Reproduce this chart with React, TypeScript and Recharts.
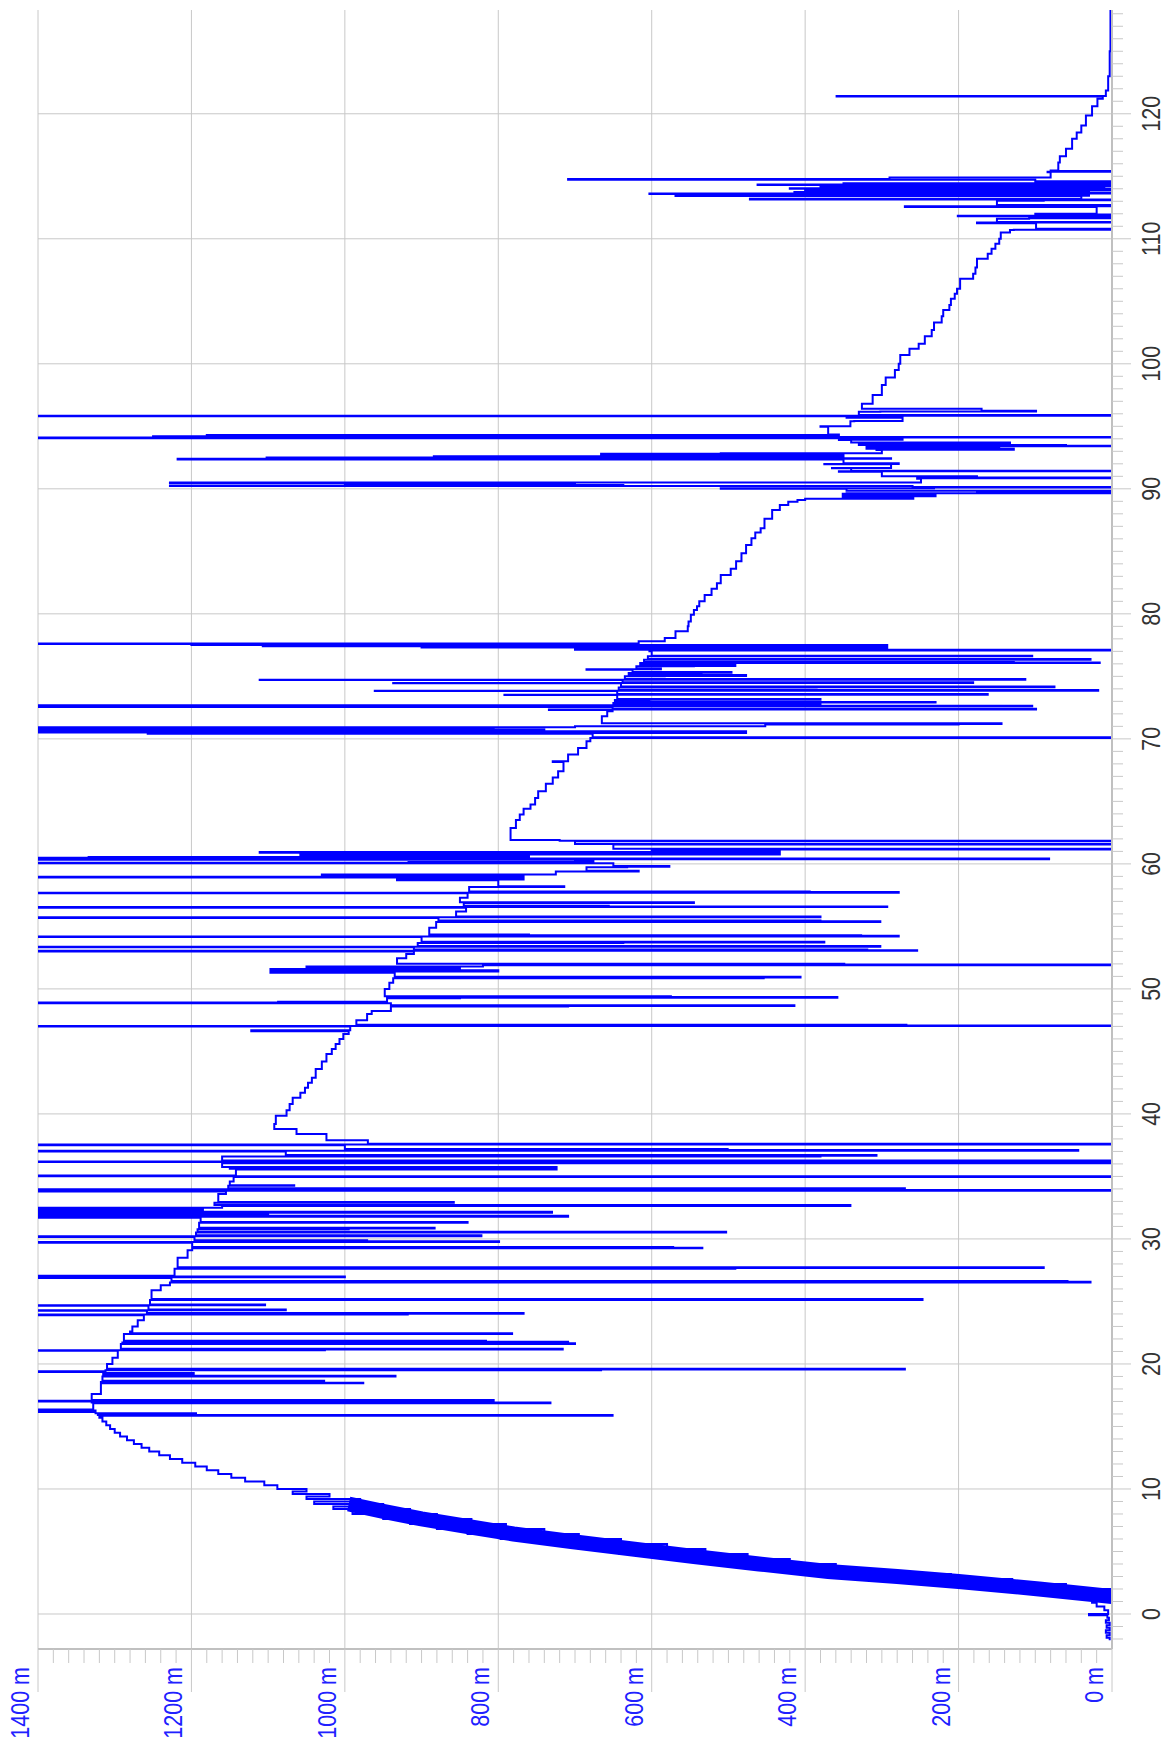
import { CartesianGrid, Line, LineChart, XAxis, YAxis } from "recharts";

// The chart is an ordinary time/altitude profile that is rotated a quarter turn
// counter-clockwise on the page: time runs bottom -> top, altitude right -> left.
const W = 1744;
const H = 1164;
const PLOT_LEFT = 95;
const PLOT_BOTTOM = 1112;

const TIME_DOMAIN: [number, number] = [-2.8, 128.3];
const ALT_DOMAIN: [number, number] = [0, 1400];

const timeMajor = [0, 10, 20, 30, 40, 50, 60, 70, 80, 90, 100, 110, 120];
const timeTicks = Array.from({ length: 131 }, (_, i) => i - 2);
const altMajor = [0, 200, 400, 600, 800, 1000, 1200, 1400];
const altTicks = Array.from({ length: 71 }, (_, i) => i * 20);

// [time, altitude m]; 1480 / -20 = spikes clipped at the frame
const startPts: [number, number][] = [
  [-2.1, 3], [-1.9, 7], [-1.7, 3], [-1.5, 8], [-1.3, 3], [-1.1, 7], [-0.9, 3], [-0.7, 8],
  [-0.5, 4], [-0.3, 6], [-0.1, 30], [0, 5], [0.3, 10], [0.6, 20], [0.9, 26], [1.2, 14],
];

// the noisy climb reads as a solid ribbon around this centre line
const climbCentre: [number, number][] = [
  [1.4, 0], [2.0, 95], [2.6, 200], [3.0, 280], [3.4, 370], [4.0, 460], [4.6, 545],
  [5.2, 625], [5.8, 705], [6.4, 780], [7.0, 840], [7.6, 900], [8.2, 950], [8.8, 995],
];

const climbPts: [number, number][] = [
  [1.4, 0], [1.6, 90], [1.8, 0], [2.0, 165], [2.2, 60], [2.4, 235], [2.6, 130], [2.8, 310],
  [3.0, 210], [3.2, 395], [3.4, 300], [3.6, 470], [3.8, 360], [4.0, 530], [4.2, 420], [4.4, 588],
  [4.6, 475], [4.8, 642], [5.0, 530], [5.2, 695], [5.4, 580], [5.6, 743], [5.8, 640], [6.0, 797],
  [6.2, 695], [6.4, 840], [6.6, 740], [6.8, 880], [7.0, 790], [7.2, 915], [7.4, 835], [7.6, 950],
  [7.8, 880], [8.0, 990], [8.2, 915], [8.4, 1015], [8.6, 950], [8.8, 1040], [9.0, 980], [9.2, 1050],
  [9.4, 1020], [9.6, 1068], [9.8, 1050], [10.0, 1088], [10.3, 1105], [10.6, 1130], [10.9, 1148],
  [11.2, 1165], [11.5, 1180], [11.8, 1195], [12.1, 1212], [12.4, 1228], [12.7, 1242], [13.0, 1255],
  [13.3, 1265], [13.6, 1275], [13.9, 1284], [14.2, 1293], [14.5, 1300], [14.8, 1306], [15.1, 1311],
  [15.4, 1316], [15.7, 1320],
];

const summitPts: [number, number][] = [
  [15.85, 651], [15.92, 1322], [15.98, 1194], [16.05, 1325], [16.15, 1480], [16.22, 1325],
  [16.28, 1480], [16.35, 1328], [16.85, 732], [16.92, 1330], [17.0, 1480], [17.05, 806],
  [17.12, 1330], [17.6, 1318], [18.45, 976], [18.5, 1318], [18.55, 1027], [18.65, 1316],
  [19.0, 934], [19.05, 1315], [19.2, 1197], [19.28, 1315], [19.35, 1480], [19.42, 1312],
  [19.5, 666], [19.55, 270], [19.62, 1310], [20.0, 1303], [20.5, 1296], [21.05, 1480],
  [21.1, 1026], [21.15, 716], [21.22, 1292], [21.6, 700], [21.65, 1290], [21.72, 709],
  [21.78, 816], [21.85, 1288], [22.4, 782], [22.45, 1280], [22.6, 1277], [23.0, 1270],
  [23.5, 1262], [23.9, 1480], [23.96, 918], [24.02, 767], [24.08, 1258], [24.25, 1480],
  [24.3, 1077], [24.36, 1256], [24.65, 1480], [24.7, 1104], [24.76, 1254], [25.12, 247],
  [25.2, 1252], [25.9, 1240], [26.3, 1228], [26.52, 28], [26.58, 58], [26.64, 1226],
  [26.88, 1480], [26.94, 1000], [27.0, 1480], [27.06, 1222], [27.62, 491], [27.68, 89],
  [27.74, 1218], [28.5, 1205], [29.1, 1199], [29.25, 534], [29.3, 572], [29.36, 1199],
  [29.7, 1480], [29.76, 799], [29.82, 971], [29.9, 1196], [30.15, 1480], [30.22, 822],
  [30.3, 1194], [30.52, 503], [30.58, 1192], [30.78, 995], [30.84, 883], [30.9, 1190],
  [31.3, 840], [31.36, 1188], [31.7, 1480], [31.78, 709], [31.86, 1480], [31.94, 1100],
  [32.02, 1480], [32.1, 730], [32.18, 1480], [32.26, 1185], [32.4, 1480], [32.5, 1160],
  [32.64, 341], [32.72, 1170], [32.9, 858], [32.96, 1165], [33.6, 1155], [33.8, 1480],
  [33.86, -20], [33.92, 1480], [33.98, 270], [34.05, 1152], [34.25, 1066], [34.3, 1150],
  [34.6, 1145], [34.95, -20], [35.02, 1480], [35.08, 1142], [35.55, 724], [35.62, 1150],
  [35.7, 724], [35.76, 1160], [36.05, -20], [36.1, 457], [36.15, 1480], [36.2, -20],
  [36.28, 1160], [36.6, 380], [36.66, 307], [36.72, 1077], [37.0, 1480], [37.06, 44],
  [37.12, 501], [37.2, 1000], [37.5, 1480], [37.56, -20], [37.62, 970], [37.9, 1024],
  [38.4, 1063], [38.8, 1092],
];

const plateauPts: [number, number][] = [
  [39.2, 1090], [39.85, 1076], [40.3, 1072], [40.8, 1068], [41.3, 1058], [41.7, 1052],
  [42.1, 1048], [42.5, 1043], [42.9, 1038], [43.6, 1030], [44.2, 1024], [44.8, 1017],
  [45.2, 1012], [45.6, 1007], [46.0, 1002], [46.4, 995], [46.62, 1122], [46.7, 993],
  [47.0, 1480], [47.04, -20], [47.08, 268], [47.14, 985], [47.5, 971], [48.0, 965],
  [48.24, 940], [48.6, 709], [48.64, 414], [48.7, 940], [48.86, 1480], [48.92, 1087],
  [48.98, 945], [49.25, 850], [49.3, 358], [49.36, 575], [49.42, 948], [50.0, 942],
  [50.5, 937], [50.85, 454], [50.92, 406], [50.98, 935], [51.3, 1097], [51.4, 800],
  [51.5, 1097], [51.6, 850], [51.7, 1050], [51.8, 820], [51.9, -20], [51.95, 349],
  [52.02, 932], [52.45, 920], [52.8, 910], [53.0, 1480], [53.05, 254], [53.1, 319],
  [53.15, 910], [53.33, 1480], [53.38, 302], [53.44, 905], [53.68, 637], [53.72, 375],
  [53.78, 900], [54.15, 1480], [54.2, 278], [54.25, 327], [54.3, 760], [54.36, 890],
  [54.9, 881], [55.35, 302], [55.42, 380], [55.48, 878], [55.68, 1480], [55.74, 380],
  [55.8, 855], [56.2, 842], [56.5, 1480], [56.55, 293], [56.6, 656], [56.66, 845],
  [56.88, 545], [56.94, 850], [57.3, 840], [57.65, 1480], [57.7, 278], [57.75, 394],
  [57.8, 838], [58.15, 714], [58.22, 800], [58.7, 932], [58.76, 767], [58.92, 1480],
  [58.98, 767], [59.05, 1030], [59.16, 725], [59.4, 617], [59.45, 685],
];

const middlePts: [number, number][] = [
  [59.74, 632], [59.78, 577], [59.84, 650], [60.05, 1480], [60.1, 917], [60.16, 676],
  [60.22, 700], [60.33, 1480], [60.38, 82], [60.44, 1480], [60.5, 1334], [60.56, 760],
  [60.72, 1058], [60.76, 433], [60.8, 927], [60.84, 454], [60.9, 1111], [60.95, 433],
  [61.0, 600], [61.16, -20], [61.22, 650], [61.55, -20], [61.6, 700], [61.82, -20],
  [61.86, 720], [61.92, 784], [62.03, 784], [62.88, 777], [63.5, 772], [63.94, 767],
  [64.4, 758], [64.74, 752], [65.27, 748], [65.8, 738], [66.4, 729], [66.9, 722],
  [67.4, 715], [68.15, 729], [68.2, 709], [68.74, 696], [69.27, 685], [69.8, 680],
  [70.07, -20], [70.12, 677], [70.4, 1257], [70.47, 477], [70.5, 1480], [70.55, 477],
  [70.6, 1480], [70.65, 740], [70.75, 1480], [70.8, 806], [70.87, 1480], [70.92, 700],
  [71.0, 452], [71.14, 200], [71.18, 144], [71.25, 665], [71.8, 658], [72.2, 651],
  [72.3, 734], [72.34, 99], [72.4, 651], [72.55, 1480], [72.6, 104], [72.64, 1480],
  [72.68, 380], [72.74, 650], [72.87, 433], [72.9, 230], [72.95, 648], [73.1, 603],
  [73.13, 380], [73.18, 645], [73.5, 792], [73.53, 162], [73.58, 645], [73.82, 961],
  [73.85, 18], [73.9, 643], [74.1, 385], [74.12, 75], [74.18, 640], [74.44, 937],
  [74.47, 181], [74.52, 638], [74.7, 1111], [74.73, 113], [74.78, 635], [75.0, 583],
  [75.03, 477], [75.1, 630], [75.26, 535], [75.29, 496], [75.35, 625], [75.53, 685],
  [75.56, 588], [75.62, 620], [75.8, 545], [75.83, 491], [75.9, 615], [76.06, 16],
  [76.1, 128], [76.15, 610], [76.33, 28], [76.38, 605], [76.6, 104], [76.65, 600],
  [77.0, 603], [77.07, -20], [77.12, 700], [77.2, 293], [77.3, 900], [77.4, 1107],
  [77.45, 293], [77.5, 1200], [77.58, 1480], [77.62, 617], [77.8, 583], [78.06, 569],
];

const slopePts: [number, number][] = [
  [78.6, 553], [79.0, 552], [79.39, 549], [79.93, 545], [80.3, 541], [80.6, 538],
  [81.0, 531], [81.5, 522], [82.0, 515], [82.45, 510], [83.1, 497], [83.6, 490],
  [84.2, 483], [84.85, 477], [85.5, 470], [86.05, 465], [86.5, 458], [86.85, 453],
  [87.6, 443], [88.3, 433], [88.7, 422], [88.97, 410], [89.1, 400],
  [89.2, 259], [89.3, 351], [89.4, 230], [89.5, 351], [89.6, 346], [89.64, -20],
  [89.7, 176], [89.76, -20], [89.85, 346], [90.0, 510], [90.04, 232], [90.1, -20],
  [90.15, 260], [90.22, 1228], [90.25, 637], [90.3, 1000], [90.36, 700], [90.45, 1228],
  [90.5, 249], [90.8, 254], [90.84, -20], [90.9, 176], [91.0, 300], [91.37, 356],
  [91.4, -20], [91.45, 340], [91.64, 365], [91.67, 288], [91.96, 375], [91.99, 278],
  [92.05, 350], [92.35, 1218], [92.4, 288], [92.45, 1102], [92.5, 375], [92.55, 884],
  [92.6, 350], [92.76, 666], [92.8, 510], [92.85, 300], [93.1, 307], [93.13, 128],
  [93.2, 320], [93.37, 147], [93.4, -20], [93.45, 60], [93.5, 330], [93.6, 307],
  [93.63, 133], [93.7, 340], [93.9, 356], [93.93, 273], [94.05, 1480], [94.1, -20],
  [94.15, 1250], [94.2, 356], [94.25, 1180], [94.3, 356], [94.35, 370], [94.96, 380],
  [95.0, 341], [95.4, 336], [95.43, 273], [95.68, 346], [95.71, 297], [95.8, 1480],
  [95.84, -20], [95.9, 330], [96.16, 302], [96.19, 99], [96.25, 170], [96.4, 326],
];

const descentPts: [number, number][] = [
  [96.8, 312], [97.5, 300], [98.3, 295], [98.9, 283], [99.5, 278], [100.0, 276],
  [100.7, 264], [101.2, 252], [101.6, 244], [102.2, 235], [102.7, 232], [103.3, 222],
  [103.8, 220], [104.3, 212], [104.7, 210], [105.2, 205], [105.6, 202], [106.0, 198],
  [106.8, 181], [107.2, 178], [107.7, 176], [108.4, 162], [108.8, 157], [109.2, 152],
  [109.6, 147], [110.0, 145], [110.5, 133],
  [110.7, 128], [110.72, -20], [110.8, 99], [111.25, 176], [111.3, -20], [111.35, 150],
  [111.6, 108], [111.65, -20], [111.7, 90], [111.75, -20], [111.8, 201], [111.85, 60],
  [111.9, -20], [111.95, 100], [112.0, 20], [112.55, 270], [112.6, -20], [112.7, 150],
  [113.05, 89], [113.08, -20], [113.15, 472], [113.2, 40], [113.42, 569], [113.45, 30],
  [113.58, 603], [113.62, -20], [113.7, 414], [113.75, 30], [113.85, 400], [113.9, -20],
  [114.0, 420], [114.05, 10], [114.15, 380], [114.2, -20], [114.3, 462], [114.35, 20],
  [114.4, 350], [114.45, -20], [114.6, 100], [114.72, 709], [114.78, 290], [114.9, 80],
  [115.33, 84], [115.36, -20], [115.42, 80], [115.47, 70],
];

const finishPts: [number, number][] = [
  [116.1, 68], [116.6, 60], [117.2, 52], [118.0, 46], [118.5, 40], [119.06, 34],
  [119.86, 26], [120.6, 19], [121.2, 12], [121.38, 359], [121.42, 8], [121.86, 5],
  [123, 3], [125, 2], [127, 2], [128.3, 2],
];

const sections = [startPts, climbPts, summitPts, plateauPts, middlePts, slopePts, descentPts, finishPts];
const data = sections.flat().map(([t, alt]) => ({ t, alt }));
const ribbonData = climbCentre.map(([t, alt]) => ({ t, alt }));

const LABEL_FONT = "'Liberation Sans', Arial, sans-serif";
const GRID = "#c8c8c8";
const BLUE = "#0000ff";

function AltTick(props: any) {
  const { y, payload } = props;
  const major = payload.value % 200 === 0;
  return (
    <g>
      <line x1={PLOT_LEFT} x2={major ? 52 : 81} y1={y} y2={y} stroke={GRID} />
      {major && (
        <text
          transform={`translate(77 ${y - 9}) scale(0.86 1)`}
          textAnchor="end"
          fontSize={25}
          fontFamily={LABEL_FONT}
          fill="#2020ff"
        >
          {`${payload.value} m`}
        </text>
      )}
    </g>
  );
}

function TimeTick(props: any) {
  const { x, payload } = props;
  const major = payload.value % 10 === 0;
  return (
    <g>
      <line x1={x} x2={x} y1={PLOT_BOTTOM} y2={major ? 1131 : 1123} stroke={GRID} />
      {major && (
        <text
          transform={`translate(${x} 1160) scale(0.86 1)`}
          textAnchor="middle"
          fontSize={25}
          fontFamily={LABEL_FONT}
          fill="#333333"
        >
          {payload.value}
        </text>
      )}
    </g>
  );
}

export default function App() {
  return (
    <div style={{ position: "absolute", left: 0, top: 0, width: H, height: W, overflow: "hidden", background: "#fff" }}>
      <div
        style={{
          position: "absolute",
          left: 0,
          top: 0,
          width: W,
          height: H,
          transformOrigin: "0 0",
          transform: `translateY(${W}px) rotate(-90deg)`,
        }}
      >
        <LineChart width={W} height={H} margin={{ top: 38, right: 10, left: 0, bottom: 0 }}>
          <CartesianGrid stroke={GRID} horizontalValues={altMajor} verticalValues={timeMajor} />
          <XAxis
            type="number"
            dataKey="t"
            domain={TIME_DOMAIN}
            allowDataOverflow
            ticks={timeTicks}
            interval={0}
            height={52}
            tickLine={false}
            axisLine={{ stroke: "#c0c0c0", strokeWidth: 2 }}
            tick={(p: any) => <TimeTick {...p} />}
          />
          <YAxis
            type="number"
            domain={ALT_DOMAIN}
            allowDataOverflow
            ticks={altTicks}
            interval={0}
            width={PLOT_LEFT}
            tickLine={false}
            axisLine={{ stroke: "#c0c0c0", strokeWidth: 2 }}
            tick={(p: any) => <AltTick {...p} />}
          />
          <Line
            data={ribbonData}
            type="linear"
            dataKey="alt"
            stroke={BLUE}
            strokeWidth={15}
            dot={false}
            isAnimationActive={false}
          />
          <Line
            data={data}
            type="stepAfter"
            dataKey="alt"
            stroke={BLUE}
            strokeWidth={2}
            dot={false}
            isAnimationActive={false}
          />
        </LineChart>
      </div>
    </div>
  );
}
